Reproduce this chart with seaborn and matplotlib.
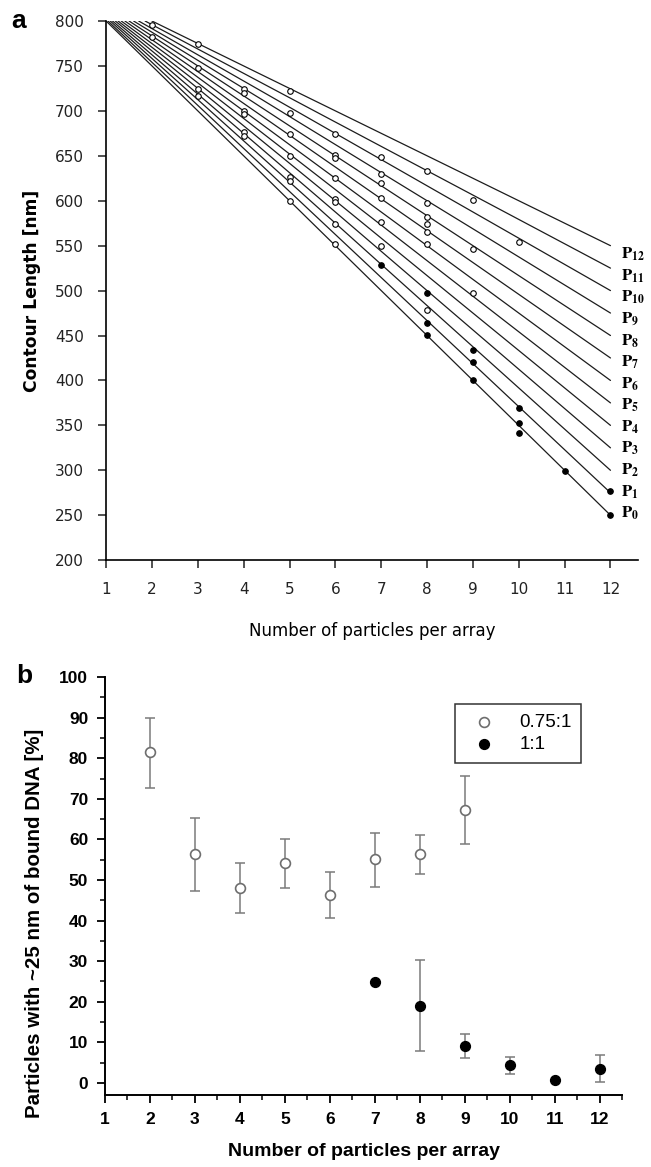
import pandas as pd
import seaborn as sns
import matplotlib.pyplot as plt
from matplotlib.ticker import MultipleLocator

# ---- panel a: model lines P0..P12 (start where they leave 800 nm, end value at 12 particles)
LINE_K = list(range(13))
LINE_START_X = [1.0, 1.04, 1.09, 1.14, 1.2, 1.26, 1.33, 1.41, 1.5, 1.6, 1.71, 1.85, 2.0]
LINE_END_Y = [250, 275, 300, 325, 350, 375, 400, 425, 450, 475, 500, 525, 550]
LABEL_Y = [252, 276, 300, 324, 348, 372, 396, 420, 444, 468, 492, 516, 540]

OPEN_X = [2, 2,
          3, 3, 3, 3,
          4, 4, 4, 4, 4, 4,
          5, 5, 5, 5, 5, 5, 5,
          6, 6, 6, 6, 6, 6, 6, 6,
          7, 7, 7, 7, 7, 7,
          8, 8, 8, 8, 8, 8, 8,
          9, 9, 9,
          10]
OPEN_Y = [796, 782,
          774, 748, 724, 717,
          724, 720, 700, 697, 676, 672,
          722, 698, 674, 650, 626, 622, 600,
          674, 651, 648, 625, 602, 599, 574, 552,
          649, 630, 620, 603, 576, 550,
          633, 598, 582, 574, 565, 552, 478,
          601, 546, 497,
          554]
FILLED_X = [7, 8, 8, 8, 9, 9, 9, 10, 10, 10, 11, 12, 12]
FILLED_Y = [528, 497, 464, 451, 434, 420, 400, 369, 353, 342, 299, 277, 250]

# ---- panel b
B_OPEN_X = [2, 3, 4, 5, 6, 7, 8, 9]
B_OPEN_MEAN = [81.5, 56.4, 48.1, 54.2, 46.2, 55.3, 56.3, 67.3]
B_OPEN_LO = [72.6, 47.3, 41.8, 48.0, 40.6, 48.4, 51.6, 58.9]
B_OPEN_HI = [90.0, 65.3, 54.1, 60.2, 51.9, 61.7, 61.0, 75.6]

B_FILL_X = [7, 8, 9, 10, 11, 12]
B_FILL_MEAN = [24.9, 19.0, 9.2, 4.3, 0.6, 3.4]
B_FILL_LO = [24.9, 7.9, 6.1, 2.1, 0.6, 0.2]
B_FILL_HI = [24.9, 30.2, 12.1, 6.4, 0.6, 6.8]


def plot_panel_a(ax):
    rows = []
    for k, x0, y1 in zip(LINE_K, LINE_START_X, LINE_END_Y):
        rows.append({"line": k, "x": x0, "y": 800})
        rows.append({"line": k, "x": 12, "y": y1})
    df = pd.DataFrame(rows)
    sns.lineplot(data=df, x="x", y="y", units="line", estimator=None,
                 color="#1c1c1c", linewidth=0.9, legend=False, ax=ax)

    sns.scatterplot(x=OPEN_X, y=OPEN_Y, marker="o", s=16, facecolor="white",
                    edgecolor="black", linewidth=0.8, zorder=3, clip_on=False, ax=ax)
    sns.scatterplot(x=FILLED_X, y=FILLED_Y, marker="o", s=16, color="black",
                    edgecolor="black", linewidth=0.8, zorder=3, clip_on=False, ax=ax)

    for k, ly in zip(LINE_K, LABEL_Y):
        ax.text(12.22, ly, r"$\mathbf{P_{%d}}$" % k, fontsize=12, va="center",
                ha="left", clip_on=False)

    ax.set_xlim(1, 12.6)
    ax.set_ylim(200, 800)
    ax.set_xticks(range(1, 13))
    ax.set_yticks(range(200, 801, 50))
    ax.tick_params(axis="both", direction="out", length=6, width=1.1,
                   labelsize=11, pad=10, colors="#222222")
    for lab in ax.get_xticklabels() + ax.get_yticklabels():
        lab.set_family("DejaVu Sans")
    ax.set_xlabel("Number of particles per array", fontsize=12,
                  family="DejaVu Sans", labelpad=18)
    ax.set_ylabel("Contour Length [nm]", fontsize=12.3, fontweight="bold",
                  family="DejaVu Sans", labelpad=10)
    sns.despine(ax=ax)
    for s in ["left", "bottom"]:
        ax.spines[s].set_linewidth(1.2)


def plot_panel_b(ax):
    ax.errorbar(B_OPEN_X, B_OPEN_MEAN,
                yerr=[[m - lo for m, lo in zip(B_OPEN_MEAN, B_OPEN_LO)],
                      [hi - m for m, hi in zip(B_OPEN_MEAN, B_OPEN_HI)]],
                fmt="none", ecolor="#7a7a7a", elinewidth=1.1, capsize=3.5, capthick=1.1)
    ax.errorbar(B_FILL_X, B_FILL_MEAN,
                yerr=[[m - lo for m, lo in zip(B_FILL_MEAN, B_FILL_LO)],
                      [hi - m for m, hi in zip(B_FILL_MEAN, B_FILL_HI)]],
                fmt="none", ecolor="#7a7a7a", elinewidth=1.1, capsize=3.5, capthick=1.1)

    sns.scatterplot(x=B_OPEN_X, y=B_OPEN_MEAN, marker="o", s=50, facecolor="white",
                    edgecolor="#6e6e6e", linewidth=1.2, zorder=3, label="0.75:1", ax=ax)
    sns.scatterplot(x=B_FILL_X, y=B_FILL_MEAN, marker="o", s=50, color="black",
                    edgecolor="black", linewidth=1.0, zorder=3, label="1:1", ax=ax)

    ax.set_xlim(1, 12.5)
    ax.set_ylim(-3, 100)
    ax.xaxis.set_major_locator(MultipleLocator(1))
    ax.xaxis.set_minor_locator(MultipleLocator(0.5))
    ax.yaxis.set_major_locator(MultipleLocator(10))
    ax.yaxis.set_minor_locator(MultipleLocator(5))
    ax.set_yticks(range(0, 101, 10))
    ax.tick_params(axis="both", which="major", direction="out", length=6, width=1.3,
                   labelsize=12.5, pad=6)
    ax.tick_params(axis="both", which="minor", direction="out", length=3.5, width=1.1)
    for lab in ax.get_xticklabels() + ax.get_yticklabels():
        lab.set_fontweight("bold")
    ax.set_xlabel("Number of particles per array", fontsize=14, fontweight="bold",
                  va="center")
    ax.xaxis.set_label_coords(0.5, -0.135)
    ax.set_ylabel("Particles with ~25 nm of bound DNA [%]", fontsize=14.8,
                  fontweight="bold")
    ax.yaxis.set_label_coords(-0.118, 0.41)
    sns.despine(ax=ax)
    for s in ["left", "bottom"]:
        ax.spines[s].set_linewidth(1.4)

    leg = ax.legend(loc="upper right", bbox_to_anchor=(0.938, 0.958), fontsize=13.5,
                    frameon=True, fancybox=False, edgecolor="black",
                    handletextpad=0.9, borderpad=0.5, labelspacing=0.3)
    leg.get_frame().set_linewidth(1.1)


if __name__ == "__main__":
    sns.set_theme(style="ticks")
    plt.rcParams["font.family"] = ["Liberation Sans", "DejaVu Sans"]
    plt.rcParams["mathtext.fontset"] = "stix"
    plt.rcParams.update({"text.color": "black", "axes.labelcolor": "black",
                         "xtick.color": "black", "ytick.color": "black",
                         "axes.edgecolor": "black"})

    fig = plt.figure(figsize=(6.51, 11.67), dpi=100)
    ax_a = fig.add_axes([0.163, 0.520, 0.817, 0.462])
    ax_b = fig.add_axes([0.161, 0.0617, 0.795, 0.358])

    plot_panel_a(ax_a)
    plot_panel_b(ax_b)

    fig.text(0.018, 0.982, "a", fontsize=19, fontweight="bold", va="center")
    fig.text(0.025, 0.421, "b", fontsize=19, fontweight="bold", va="center")

    fig.savefig("out.png", dpi=100)
